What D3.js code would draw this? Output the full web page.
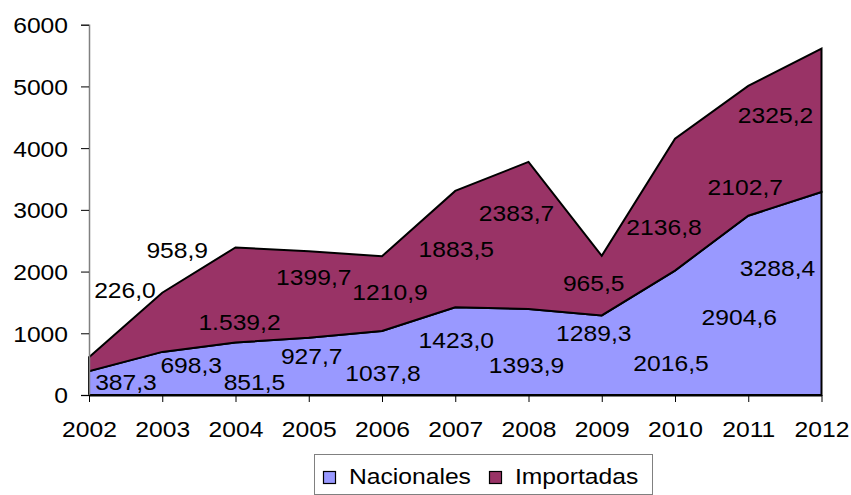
<!DOCTYPE html>
<html>
<head>
<meta charset="utf-8">
<script src="https://cdn.jsdelivr.net/npm/d3@7"></script>
<style>
  html, body { margin: 0; padding: 0; background: #fff; }
  svg { display: block; }
  text { font-family: "Liberation Sans", Arial, sans-serif; fill: #000; }
</style>
</head>
<body>
<svg id="chart" width="851" height="495"></svg>
<script>
// ---- data ----
const years = ["2002","2003","2004","2005","2006","2007","2008","2009","2010","2011","2012"];
const nacionales = [387.3, 698.3, 851.5, 927.7, 1037.8, 1423.0, 1393.9, 1289.3, 2016.5, 2904.6, 3288.4];
const importadas = [226.0, 958.9, 1539.2, 1399.7, 1210.9, 1883.5, 2383.7, 965.5, 2136.8, 2102.7, 2325.2];
const nacionalesLabels = ["387,3","698,3","851,5","927,7","1037,8","1423,0","1393,9","1289,3","2016,5","2904,6","3288,4"];
const importadasLabels = ["226,0","958,9","1.539,2","1399,7","1210,9","1883,5","2383,7","965,5","2136,8","2102,7","2325,2"];
const seriesNames = ["Nacionales", "Importadas"];
const yTicks = [0, 1000, 2000, 3000, 4000, 5000, 6000];

// ---- layout (label nudges, pixels, relative to mid of each band) ----
const nacDx = [37, 29, 19, 3, 1, 1, -2, -8, -4, -9, -44];
const nacDy = [-1, -8, 13, -10, 10, -11, 13, -22, 30, 12, -25];
const impDx = [36, 15, 4, 5, 8, 1, -12, -8, -11, -3, -46];
const impDy = [-74, -72, 27, -17, -2, 0, -22, -3, 22, 36, -5];

const colors = ["#9999FF", "#993366"];
const FS = 22, STRETCH = 1.12;

const svg = d3.select("#chart");
const x = d3.scalePoint().domain(years).range([89, 821.5]);
const y = d3.scaleLinear().domain([0, 6000]).range([395, 24.7]);

function stretch(sel) {
  sel.each(function() {
    const w = this.getComputedTextLength();
    d3.select(this).attr("textLength", w * STRETCH).attr("lengthAdjust", "spacingAndGlyphs");
  });
}

const rows = years.map((yr, i) => ({ year: yr, Nacionales: nacionales[i], Importadas: importadas[i] }));
const stack = d3.stack().keys(seriesNames)(rows);

const area = d3.area()
  .x(d => x(d.data.year))
  .y0(d => y(d[0]))
  .y1(d => y(d[1]));

svg.append("g").selectAll("path")
  .data(stack)
  .join("path")
  .attr("d", area)
  .attr("fill", (d, i) => colors[i])
  .attr("stroke", "#000")
  .attr("stroke-width", 2)
  .attr("stroke-linejoin", "miter");

// y axis
const yAxis = svg.append("g").attr("transform", "translate(89,0)")
  .call(d3.axisLeft(y).tickValues(yTicks).tickSize(8).tickPadding(13).tickFormat(d3.format("d")));
yAxis.select(".domain").attr("stroke", "#808080").attr("stroke-width", 1.5);
yAxis.selectAll(".tick line").attr("stroke", "#000");
yAxis.selectAll("text").attr("font-size", FS).attr("font-family", "Liberation Sans, Arial, sans-serif")
  .attr("fill", "#000").attr("dy", "0.36em").call(stretch);

// x axis
const xAxis = svg.append("g").attr("transform", "translate(0,395)")
  .call(d3.axisBottom(x).tickSize(7).tickSizeOuter(0).tickPadding(17));
xAxis.select(".domain").attr("stroke", "#000").attr("stroke-width", 2);
xAxis.selectAll(".tick line").attr("stroke", "#000");
xAxis.selectAll("text").attr("font-size", FS).attr("font-family", "Liberation Sans, Arial, sans-serif")
  .attr("fill", "#000").attr("dy", "0.36em").attr("y", 34).call(stretch);

// data labels
const labelSets = [
  { labels: nacionalesLabels, dx: nacDx, dy: nacDy, s: stack[0] },
  { labels: importadasLabels, dx: impDx, dy: impDy, s: stack[1] }
];
const lg = svg.append("g");
labelSets.forEach(set => {
  lg.selectAll(null)
    .data(set.s)
    .join("text")
    .attr("x", (d, i) => x(d.data.year) + set.dx[i])
    .attr("y", (d, i) => y((d[0] + d[1]) / 2) + set.dy[i])
    .attr("dy", "0.36em")
    .attr("text-anchor", "middle")
    .attr("font-size", FS)
    .text((d, i) => set.labels[i])
    .call(stretch)
    .each(function() {
      // re-center after stretch
      const el = d3.select(this);
      const w = +el.attr("textLength");
      el.attr("text-anchor", "start").attr("x", +el.attr("x") - w / 2);
    });
});

// legend
const leg = svg.append("g");
leg.append("rect").attr("x", 314.5).attr("y", 454.5).attr("width", 338).attr("height", 40)
  .attr("fill", "#fff").attr("stroke", "#808080").attr("stroke-width", 1);
const legX = [323, 489];
seriesNames.forEach((name, i) => {
  leg.append("rect").attr("x", legX[i] + 0.5).attr("y", 471.5).attr("width", 12).attr("height", 12)
    .attr("fill", colors[i]).attr("stroke", "#000").attr("stroke-width", 1.2);
  leg.append("text").attr("x", legX[i] + 26).attr("y", 484).attr("font-size", FS)
    .text(name).call(stretch);
});
</script>
</body>
</html>
